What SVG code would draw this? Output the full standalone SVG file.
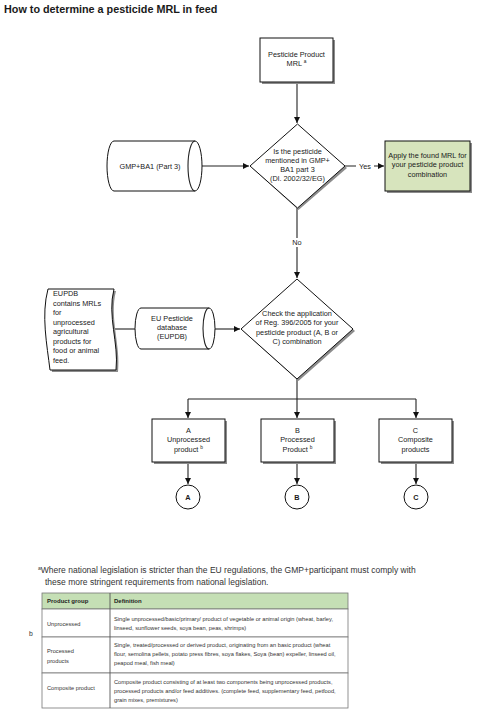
<svg xmlns="http://www.w3.org/2000/svg" width="484" height="715" viewBox="0 0 484 715">
<defs>
<marker id="arr" markerUnits="userSpaceOnUse" markerWidth="7" markerHeight="7" refX="6" refY="3" orient="auto"><path d="M0,0 L6,3 L0,6 z" fill="#111"/></marker>
</defs>
<style>
text{font-family:"Liberation Sans",Arial,sans-serif;fill:#1a1a1a}
.t{font-size:7.3px;text-anchor:middle}
.tl{font-size:7.3px}
.sh{fill:#8c8c8c}
.box{fill:#fff;stroke:#111;stroke-width:1}
.con{fill:none;stroke:#222;stroke-width:1.1}
.tb{font-size:5.7px;fill:#333}
.th{font-size:6px;font-weight:bold;fill:#222}
.cell{fill:#fff;stroke:#777;stroke-width:0.8}
</style>
<rect width="484" height="715" fill="#fff"/>
<text x="4" y="13" style="font-size:10.8px;font-weight:bold">How to determine a pesticide MRL in feed</text>

<g id="connectors">
<path class="con" d="M297,82 V123" marker-end="url(#arr)"/>
<path class="con" d="M202,166 H249" marker-end="url(#arr)"/>
<path class="con" d="M345,166 H384" marker-end="url(#arr)"/>
<path class="con" d="M297,208 V278" marker-end="url(#arr)"/>
<path class="con" d="M112,329 H136"/>
<path class="con" d="M215,329 H240" marker-end="url(#arr)"/>
<path class="con" d="M297,379 V418" marker-end="url(#arr)"/>
<path class="con" d="M188,399 H416"/>
<path class="con" d="M188,399 V418" marker-end="url(#arr)"/>
<path class="con" d="M416,399 V418" marker-end="url(#arr)"/>
<path class="con" d="M188,462 V484" marker-end="url(#arr)"/>
<path class="con" d="M297,462 V484" marker-end="url(#arr)"/>
<path class="con" d="M416,462 V484" marker-end="url(#arr)"/>
<rect x="356" y="162" width="18" height="8" fill="#fff"/>
<text class="t" x="365" y="168.5">Yes</text>
<rect x="290" y="238" width="14" height="9" fill="#fff"/>
<text class="t" x="297" y="245">No</text>
</g>

<g id="mrl-box">
<rect class="sh" x="262" y="40" width="73" height="44"/>
<rect class="box" x="260" y="38" width="73" height="44"/>
<text class="t" x="296.5" y="57">Pesticide Product</text>
<text class="t" x="296.5" y="66">MRL <tspan font-size="4.8" dy="-2.8">a</tspan></text>
</g>

<g id="decision-1">
<path class="sh" d="M298.5,126 L347,168 L298.5,210 L252,168 Z"/>
<path class="box" d="M297.5,124 L345,166 L297.5,208 L250,166 Z"/>
<text class="t" x="297.5" y="153.5">Is the pesticide</text>
<text class="t" x="297.5" y="162.5">mentioned in GMP+</text>
<text class="t" x="297.5" y="171.5">BA1 part 3</text>
<text class="t" x="297.5" y="180.5">(Dl. 2002/32/EG)</text>
</g>

<g id="gmp-ba1">
<path class="box" d="M114,141 L195,141 A7 25 0 0 1 195,191 L114,191 A7 25 0 0 1 114,141 Z"/>
<path class="con" d="M195,141 A7 25 0 0 0 195,191"/>
<text class="t" x="150" y="168.5">GMP+BA1 (Part 3)</text>
</g>

<g id="apply-mrl">
<rect class="sh" x="387" y="143" width="85" height="50"/>
<rect x="385" y="141" width="85" height="50" fill="#d7e4bd" stroke="#111" stroke-width="1"/>
<text class="t" x="427.5" y="158">Apply the found MRL for</text>
<text class="t" x="427.5" y="167">your pesticide product</text>
<text class="t" x="427.5" y="176.5">combination</text>
</g>

<g id="decision-2">
<path class="sh" d="M298.5,281 L355,331 L298.5,381 L243,331 Z"/>
<path class="box" d="M297,279 L353,329 L297,379 L241,329 Z"/>
<text class="t" x="297" y="316">Check the application</text>
<text class="t" x="297" y="325">of Reg. 396/2005 for your</text>
<text class="t" x="297" y="334.5">pesticide product (A, B or</text>
<text class="t" x="297" y="344">C) combination</text>
</g>

<g id="eupdb-db">
<path class="box" d="M141,308 L209,308 A6 20.5 0 0 1 209,349 L141,349 A6 20.5 0 0 1 141,308 Z"/>
<path class="con" d="M209,308 A6 20.5 0 0 0 209,349"/>
<text class="t" x="172" y="321">EU Pesticide</text>
<text class="t" x="172" y="330">database</text>
<text class="t" x="172" y="339">(EUPDB)</text>
</g>

<g id="eupdb-note">
<path class="sh" d="M50,291 L116,291 C109,318 121,345 118,372 L52,372 C49,347 43,317 50,291 Z"/>
<path class="box" d="M48,289 L114,289 C107,316 119,343 116,370 L50,370 C47,345 41,315 48,289 Z"/>
<text class="tl" x="53" y="296">EUPDB</text>
<text class="tl" x="53" y="305.5">contains MRLs</text>
<text class="tl" x="53" y="315">for</text>
<text class="tl" x="53" y="324.5">unprocessed</text>
<text class="tl" x="53" y="334">agricultural</text>
<text class="tl" x="53" y="343.5">products for</text>
<text class="tl" x="53" y="353">food or animal</text>
<text class="tl" x="53" y="362.5">feed.</text>
</g>

<g id="box-a">
<rect class="sh" x="154" y="421" width="73" height="43"/>
<rect class="box" x="152" y="419" width="73" height="43"/>
<text class="t" x="188.5" y="433">A</text>
<text class="t" x="188.5" y="442">Unprocessed</text>
<text class="t" x="188.5" y="452">product <tspan font-size="4.8" dy="-2.8">b</tspan></text>
</g>
<g id="box-b">
<rect class="sh" x="263" y="421" width="73" height="43"/>
<rect class="box" x="261" y="419" width="73" height="43"/>
<text class="t" x="297.5" y="433">B</text>
<text class="t" x="297.5" y="442">Processed</text>
<text class="t" x="297.5" y="452">Product <tspan font-size="4.8" dy="-2.8">b</tspan></text>
</g>
<g id="box-c">
<rect class="sh" x="381" y="421" width="73" height="43"/>
<rect class="box" x="379" y="419" width="73" height="43"/>
<text class="t" x="415.5" y="433">C</text>
<text class="t" x="415.5" y="442">Composite</text>
<text class="t" x="415.5" y="452">products</text>
</g>

<g id="circle-a">
<circle class="box" cx="188" cy="497" r="12"/>
<text class="t" x="188" y="499.5" font-weight="bold">A</text>
</g>
<g id="circle-b">
<circle class="box" cx="297" cy="497" r="12"/>
<text class="t" x="297" y="499.5" font-weight="bold">B</text>
</g>
<g id="circle-c">
<circle class="box" cx="416" cy="497" r="12"/>
<text class="t" x="416" y="499.5" font-weight="bold">C</text>
</g>

<g id="footnote">
<text x="38" y="573" style="font-size:8.5px;fill:#333"><tspan font-size="5" dy="-3">a</tspan><tspan dy="3">Where national legislation is stricter than the EU regulations, the GMP+participant must comply with</tspan></text>
<text x="45" y="585" style="font-size:8.5px;fill:#333">these more stringent requirements from national legislation.</text>
</g>

<g id="table">
<text x="29" y="636" style="font-size:6.8px;fill:#333">b</text>
<rect x="42" y="593" width="306" height="16" fill="#c5dfb5" stroke="#777" stroke-width="0.8"/>
<rect class="cell" x="42" y="609" width="306" height="28"/>
<rect class="cell" x="42" y="637" width="306" height="36"/>
<rect class="cell" x="42" y="673" width="306" height="35"/>
<line x1="110" y1="593" x2="110" y2="708" stroke="#555" stroke-width="0.9"/>
<text class="th" x="47" y="603">Product group</text>
<text class="th" x="114" y="603">Definition</text>
<text class="tb" x="47" y="626">Unprocessed</text>
<text class="tb" x="47" y="653">Processed</text>
<text class="tb" x="47" y="663">products</text>
<text class="tb" x="47" y="690">Composite product</text>
<text class="tb" x="114" y="621">Single unprocessed/basic/primary/ product of vegetable or animal origin (wheat, barley,</text>
<text class="tb" x="114" y="630">linseed, sunflower seeds, soya bean, peas, shrimps)</text>
<text class="tb" x="114" y="647">Single, treated/processed or derived product, originating from an basic product (wheat</text>
<text class="tb" x="114" y="656">flour, semolina pellets, potato press fibres, soya flakes, Soya (bean) expeller, linseed oil,</text>
<text class="tb" x="114" y="665">peapod meal, fish meal)</text>
<text class="tb" x="114" y="684">Composite product consisting of at least two components being unprocessed products,</text>
<text class="tb" x="114" y="693">processed products and/or feed additives. (complete feed,  supplementary feed, petfood,</text>
<text class="tb" x="114" y="702">grain mixes, premixtures)</text>
</g>
</svg>
